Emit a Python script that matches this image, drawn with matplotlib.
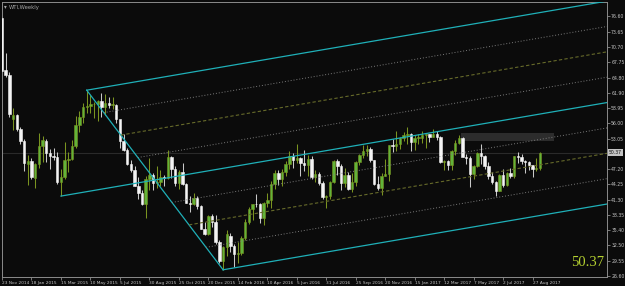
#!/usr/bin/env python3
from __future__ import annotations

import matplotlib

matplotlib.use("Agg")
import matplotlib.pyplot as plt
from matplotlib.patches import Rectangle
from matplotlib.transforms import blended_transform_factory

# weekly WTI candles, week 0 = 23 Nov 2014
OPENS = [
    76.3, 66.2, 65.4, 56.8, 57.6, 55.0, 52.6, 48.2, 48.7, 45.4,
    48.2, 51.7, 52.6, 50.3, 49.8, 49.6, 44.8, 45.7, 48.9, 49.1,
    51.6, 55.7, 57.2, 59.2, 59.4, 59.7, 59.7, 60.3, 59.1, 60.0,
    59.6, 59.6, 56.9, 52.7, 50.9, 48.1, 47.1, 43.9, 42.5, 40.5,
    45.2, 46.1, 44.6, 44.7, 45.7, 45.5, 49.6, 47.3, 44.6, 46.6,
    44.3, 40.7, 40.4, 41.7, 40.0, 35.6, 34.7, 38.1, 37.0, 33.2,
    29.4, 32.2, 34.4, 32.3, 30.9, 31.1, 34.0, 37.1, 39.6, 40.5,
    40.4, 37.7, 40.6, 41.2, 44.4, 46.5, 45.2, 46.7, 48.2, 49.8,
    49.0, 49.4, 48.3, 48.0, 49.2, 45.7, 46.2, 44.5, 41.8, 42.0,
    44.7, 48.7, 47.8, 44.6, 46.1, 43.3, 44.8, 48.5, 50.0, 50.6,
    51.0, 48.9, 44.3, 43.6, 45.9, 46.3, 51.8, 51.6, 52.0, 53.1,
    53.8, 54.0, 52.4, 53.2, 53.2, 53.8, 53.9, 53.4, 54.0, 53.3,
    48.5, 48.8, 48.0, 50.6, 52.2, 53.2, 49.6, 49.3, 46.2, 47.8,
    50.3, 49.8, 47.7, 45.8, 44.7, 43.0, 46.0, 44.2, 46.5, 45.8,
    49.7, 49.6, 48.8, 48.5, 47.9, 47.3, 47.5,
]
HIGHS = [
    76.6, 69.6, 66.0, 59.0, 57.9, 55.3, 53.0, 50.0, 49.3, 48.3,
    54.2, 53.5, 53.0, 51.0, 51.3, 50.5, 47.2, 52.5, 50.4, 52.9,
    57.4, 58.4, 59.9, 62.4, 61.5, 60.2, 60.5, 61.8, 61.6, 61.1,
    61.0, 59.8, 56.0, 53.9, 51.2, 49.0, 47.8, 45.6, 43.2, 45.9,
    49.3, 46.5, 47.7, 47.0, 46.0, 50.9, 49.8, 47.8, 47.0, 48.4,
    44.6, 42.0, 42.6, 42.0, 40.2, 37.1, 38.4, 38.5, 38.4, 33.6,
    32.3, 35.5, 34.9, 32.7, 33.2, 34.4, 37.5, 39.9, 40.5, 42.4,
    40.6, 40.9, 42.6, 45.0, 47.1, 47.0, 47.3, 48.7, 50.6, 50.3,
    52.0, 49.6, 50.9, 50.0, 49.7, 47.0, 46.7, 44.9, 42.2, 44.9,
    48.9, 49.1, 48.1, 47.5, 46.7, 46.4, 48.7, 50.1, 51.8, 51.9,
    51.4, 49.0, 45.9, 46.4, 49.2, 51.9, 53.0, 54.6, 53.4, 54.3,
    55.3, 54.2, 53.8, 54.0, 54.5, 54.0, 54.0, 54.9, 54.6, 53.5,
    49.0, 49.0, 50.9, 52.9, 53.8, 53.4, 50.2, 49.8, 48.0, 50.4,
    52.0, 50.0, 48.5, 46.6, 45.0, 46.3, 47.3, 46.6, 47.4, 49.8,
    50.4, 50.2, 49.0, 48.8, 48.0, 49.4, 50.4,
]
LOWS = [
    65.7, 64.9, 57.3, 54.7, 54.5, 52.0, 46.8, 44.2, 45.2, 43.6,
    47.4, 48.5, 48.6, 47.3, 48.9, 44.4, 42.0, 45.3, 46.7, 49.0,
    51.3, 54.3, 56.1, 58.1, 58.0, 57.0, 56.5, 57.2, 57.7, 58.9,
    58.7, 56.1, 51.2, 50.6, 47.9, 46.7, 43.9, 41.4, 40.2, 37.8,
    43.2, 43.2, 43.6, 43.9, 43.9, 45.3, 45.5, 43.9, 43.3, 44.1,
    40.6, 39.0, 40.3, 39.5, 35.6, 34.5, 34.5, 36.0, 32.8, 29.2,
    27.8, 30.5, 31.3, 28.3, 29.2, 30.6, 33.5, 36.6, 37.4, 39.8,
    36.9, 36.5, 39.8, 39.7, 43.4, 44.1, 44.0, 45.8, 47.2, 47.4,
    48.4, 45.8, 46.8, 45.9, 45.2, 44.7, 44.1, 41.5, 39.7, 41.4,
    44.5, 46.1, 43.2, 43.8, 43.1, 42.7, 43.9, 47.9, 49.3, 49.7,
    48.5, 44.2, 43.1, 42.3, 45.8, 44.9, 50.4, 50.7, 51.1, 52.6,
    52.1, 50.7, 50.9, 52.1, 52.3, 51.2, 52.4, 53.3, 52.8, 48.3,
    47.1, 47.0, 47.1, 50.0, 52.0, 49.5, 48.2, 43.8, 45.3, 47.6,
    48.2, 47.2, 45.2, 44.4, 42.1, 42.9, 43.8, 43.9, 45.4, 45.4,
    48.4, 48.1, 46.5, 47.0, 45.6, 46.8, 47.1,
]
CLOSES = [
    66.1, 65.4, 57.8, 57.6, 55.0, 52.7, 48.4, 48.7, 45.6, 48.2,
    51.7, 52.8, 50.3, 49.8, 49.6, 44.8, 45.7, 48.9, 49.1, 51.6,
    55.7, 57.2, 59.2, 59.4, 59.7, 59.7, 60.3, 59.1, 60.0, 59.6,
    59.6, 56.9, 52.7, 50.9, 48.1, 47.1, 43.9, 42.5, 40.5, 45.2,
    46.1, 44.6, 44.7, 45.7, 45.5, 49.6, 47.3, 44.6, 46.6, 44.3,
    40.7, 40.4, 41.7, 40.0, 35.6, 34.7, 38.1, 37.0, 33.2, 29.4,
    32.2, 34.6, 32.3, 30.9, 31.1, 34.0, 37.1, 39.6, 40.5, 40.4,
    37.7, 40.6, 41.2, 44.4, 46.5, 45.2, 46.7, 48.2, 49.8, 49.0,
    49.4, 48.3, 48.0, 49.2, 45.7, 46.2, 44.5, 41.8, 42.0, 44.7,
    48.7, 47.8, 44.6, 46.1, 43.3, 44.8, 48.5, 50.0, 50.6, 51.0,
    48.9, 44.3, 43.6, 45.9, 46.3, 51.8, 51.6, 52.0, 53.1, 53.8,
    54.0, 52.4, 53.2, 53.2, 53.8, 53.9, 53.4, 54.0, 53.3, 48.5,
    48.8, 48.0, 50.6, 52.2, 53.2, 49.6, 49.3, 46.2, 47.8, 50.3,
    49.8, 47.7, 45.8, 44.7, 43.0, 46.0, 44.2, 46.5, 45.8, 49.7,
    49.6, 48.8, 48.5, 47.9, 47.3, 47.5, 50.37,
]

X_TICK_WEEKS = list(range(0, 145, 8))
X_TICK_LABELS = [
    "23 Nov 2014", "18 Jan 2015", "15 Mar 2015", "10 May 2015", "5 Jul 2015",
    "30 Aug 2015", "25 Oct 2015", "20 Dec 2015", "14 Feb 2016", "10 Apr 2016",
    "5 Jun 2016", "31 Jul 2016", "25 Sep 2016", "20 Nov 2016", "15 Jan 2017",
    "12 Mar 2017", "7 May 2017", "2 Jul 2017", "27 Aug 2017",
]
Y_TICK_LABELS = [
    "26.60", "29.55", "32.50", "35.40", "38.35", "41.30", "44.25", "47.20",
    "50.15", "53.05", "56.00", "58.95", "61.90", "64.80", "67.75", "70.70",
    "73.65", "76.60",
]

# pitchfork anchors (week, price)
FORK_A = (16, 42.0)
FORK_B = (23, 62.4)
FORK_C = (60, 27.8)
FORK_LEVELS = [0.25, 0.5, 0.75]

# grey zone drawn on the chart (weeks, prices)
ZONE_WEEKS = (124.7, 149.9)
ZONE_PRICES = (52.6, 54.15)

LAST_PRICE = 50.37

BG = "#0b0b0b"
AXIS_GREY = "#8c8c8c"
TEXT_GREY = "#c4c4c4"
BULL_BODY = "#62b43a"
BULL_WICK = "#7a9420"
BEAR_BODY = "#f4f4f4"
BEAR_WICK = "#c8c8c8"
CYAN = "#1fb0b8"
DOT_GREY = "#7c7c7c"
OLIVE = "#666a2a"

XMIN, XMAX = 0.25, 164.2
YMIN, YMAX = 26.41, 79.39


def draw_candles(ax):
    for i, (o, h, l, c) in enumerate(zip(OPENS, HIGHS, LOWS, CLOSES)):
        bull = c >= o
        wick = BULL_WICK if bull else BEAR_WICK
        body = BULL_BODY if bull else BEAR_BODY
        ax.vlines(i, l, h, color=wick, linewidth=0.75, zorder=2)
        bottom = min(o, c)
        height = max(abs(c - o), 0.12)
        ax.bar(i, height, width=0.66, bottom=bottom, color=body,
               edgecolor=wick if bull else body, linewidth=0.4, zorder=3)


def draw_pitchfork(ax):
    ax_, ay = FORK_A
    bx, by = FORK_B
    cx, cy = FORK_C
    mx, my = (bx + cx) / 2, (by + cy) / 2
    slope = (my - ay) / (mx - ax_)

    def ray(x0, y0, **kw):
        ax.plot([x0, XMAX], [y0, y0 + slope * (XMAX - x0)], zorder=4, **kw)

    cyan = dict(color=CYAN, linewidth=0.9)
    ray(ax_, ay, **cyan)
    ray(bx, by, **cyan)
    ray(cx, cy, **cyan)
    ax.plot([bx, cx], [by, cy], zorder=4, **cyan)

    for f in FORK_LEVELS:
        if f == 0.5:
            style = dict(color=OLIVE, linewidth=0.8, linestyle=(0, (3, 2)))
        else:
            style = dict(color=DOT_GREY, linewidth=0.7, linestyle=(0, (1, 2)))
        for ex, ey in ((bx, by), (cx, cy)):
            ray(mx + f * (ex - mx), my + f * (ey - my), **style)


def main() -> int:
    fig = plt.figure(figsize=(6.25, 2.86), dpi=100, facecolor=BG)
    ax = fig.add_axes([2 / 625, 9 / 286, 605 / 625, 275 / 286], facecolor=BG)

    ax.add_patch(Rectangle((ZONE_WEEKS[0], ZONE_PRICES[0]), ZONE_WEEKS[1] - ZONE_WEEKS[0],
                           ZONE_PRICES[1] - ZONE_PRICES[0], facecolor="#2c2c2c",
                           edgecolor="none", zorder=1))
    ax.axhline(LAST_PRICE, color="#2a2a2a", linewidth=0.8, zorder=1)

    draw_candles(ax)
    draw_pitchfork(ax)

    ax.set_xlim(XMIN, XMAX)
    ax.set_ylim(YMIN, YMAX)

    y_ticks = [26.60 + k * 50.0 / 17 for k in range(len(Y_TICK_LABELS))]
    ax.set_yticks(y_ticks)
    ax.set_yticklabels([lab if lab != "50.15" else "" for lab in Y_TICK_LABELS])
    ax.yaxis.tick_right()
    ax.tick_params(axis="y", colors=AXIS_GREY, labelcolor=TEXT_GREY, labelsize=3.3,
                   length=2, width=0.6, pad=1.0, direction="out")

    ax.set_xticks(X_TICK_WEEKS)
    ax.set_xticklabels(X_TICK_LABELS, ha="left")
    ax.tick_params(axis="x", colors=AXIS_GREY, labelcolor=TEXT_GREY, labelsize=3.1,
                   length=2, width=0.6, pad=0.6, direction="out")

    for spine in ax.spines.values():
        spine.set_color(AXIS_GREY)
        spine.set_linewidth(0.7)

    trans = blended_transform_factory(ax.transAxes, ax.transData)
    ax.text(1.003, LAST_PRICE, f"{LAST_PRICE:.2f}", transform=trans, ha="left",
            va="center", fontsize=3.3, color="#101010", zorder=6,
            bbox=dict(boxstyle="square,pad=0.2", facecolor="#c4c4c4", edgecolor="none"))

    fig.text(9 / 625, 1 - 7 / 286, "WTI,Weekly", fontsize=3.8, color="#a8a8a8",
             ha="left", va="center")
    fig.text(4 / 625, 1 - 7 / 286, "\u25be", fontsize=4, color="#a8a8a8",
             ha="left", va="center")
    fig.text(604 / 625, 1 - 262 / 286, f"{LAST_PRICE:.2f}", fontsize=10.5,
             color="#b4d030", ha="right", va="center", family="Liberation Serif")

    fig.savefig("out.png", dpi=100, facecolor=fig.get_facecolor())
    plt.close(fig)
    return 0


if __name__ == "__main__":
    raise SystemExit(main())
